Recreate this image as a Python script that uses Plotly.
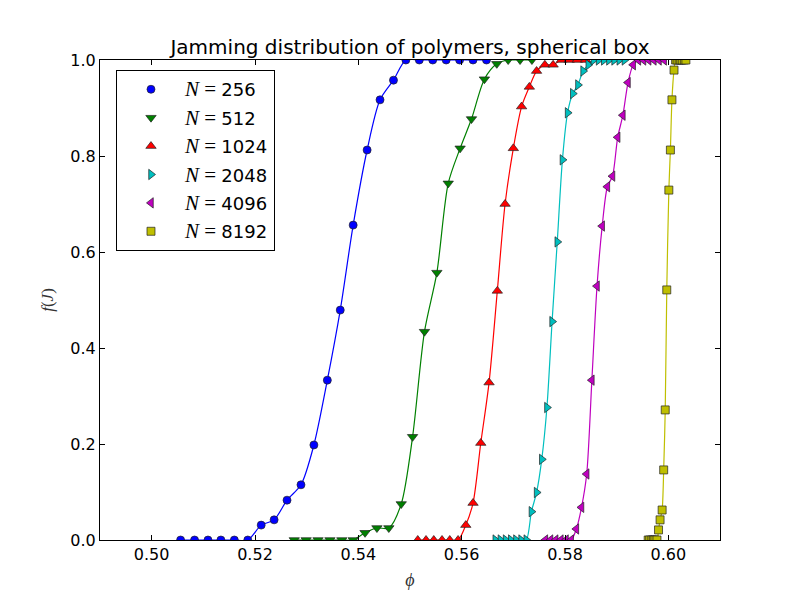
import plotly.graph_objects as go

# ---- data ----
labels = ["256", "512", "1024", "2048", "4096", "8192"]

phi_256 = [0.5056, 0.5083, 0.5109, 0.5134, 0.5160, 0.5186, 0.5212, 0.5237, 0.5262, 0.5289,
           0.5314, 0.5340, 0.5365, 0.5390, 0.5417, 0.5442, 0.5468, 0.5492, 0.5518, 0.5544,
           0.5570, 0.5596, 0.5622, 0.5648]
f_256 = [0, 0, 0, 0, 0, 0, 0.031, 0.042, 0.083, 0.115, 0.198, 0.333, 0.479, 0.656, 0.8125,
         0.917, 0.958, 1, 1, 1, 1, 1, 1, 1]

phi_512 = [0.5276, 0.5299, 0.5322, 0.5345, 0.5368, 0.5390, 0.5413, 0.5436, 0.5459, 0.5483,
           0.5505, 0.5528, 0.5552, 0.5574, 0.5597, 0.5619, 0.5644, 0.5668, 0.5690, 0.5713,
           0.5736]
f_512 = [0, 0, 0, 0, 0, 0, 0.015, 0.025, 0.025, 0.075, 0.215, 0.434, 0.557, 0.743, 0.816,
         0.877, 0.960, 0.992, 1, 1, 1]

phi_1024 = [0.5515, 0.5531, 0.5546, 0.5562, 0.5577, 0.5593, 0.5608, 0.5622, 0.5637, 0.5653,
            0.5669, 0.5684, 0.5700, 0.5716, 0.5731, 0.5745, 0.5761, 0.5777, 0.5793, 0.5808,
            0.5824, 0.5840]
f_1024 = [0, 0, 0, 0, 0, 0, 0.031, 0.077, 0.202, 0.328, 0.519, 0.700, 0.816, 0.903, 0.944,
          0.977, 0.99, 0.99, 1, 1, 1, 1]

phi_2048 = [0.5665, 0.5675, 0.5685, 0.5695, 0.5705, 0.5715, 0.5725, 0.5735, 0.5745, 0.5755,
            0.5765, 0.5775, 0.5785, 0.5795, 0.5805, 0.5815, 0.5825, 0.5835, 0.5845, 0.5855,
            0.5865, 0.5875, 0.5885, 0.5895, 0.5905, 0.5915]
f_2048 = [0, 0, 0, 0, 0, 0, 0, 0.059, 0.099, 0.168, 0.276, 0.455, 0.621, 0.792, 0.890,
          0.930, 0.948, 0.977, 0.990, 1, 1, 1, 1, 1, 1, 1]

phi_4096 = [0.5762, 0.5772, 0.5782, 0.5792, 0.5802, 0.5812, 0.5822, 0.5832, 0.5842, 0.5852,
            0.5862, 0.5872, 0.5882, 0.5892, 0.5902, 0.5912, 0.5922, 0.5932, 0.5942, 0.5952,
            0.5962, 0.5972, 0.5982, 0.5992]
f_4096 = [0, 0, 0, 0, 0, 0, 0.023, 0.068, 0.1375, 0.333, 0.529, 0.654, 0.736, 0.758, 0.839,
          0.885, 0.953, 0.990, 1, 1, 1, 1, 1, 1]

phi_8192 = [0.5961, 0.5964, 0.5968, 0.5971, 0.5974, 0.5978, 0.5981, 0.5984, 0.5988, 0.5991,
            0.5994, 0.5997, 0.6001, 0.6004, 0.6007, 0.6011, 0.6014, 0.6017, 0.6021, 0.6024,
            0.6027, 0.6031, 0.6034]
f_8192 = [0, 0, 0, 0, 0, 0, 0.021, 0.042, 0.0625, 0.146, 0.271, 0.521, 0.729, 0.8125, 0.917,
          0.979, 1, 1, 1, 1, 1, 1, 1]

x_ticks = [0.50, 0.52, 0.54, 0.56, 0.58, 0.60]
y_ticks = [0.0, 0.2, 0.4, 0.6, 0.8, 1.0]

series = [
    (phi_256, f_256, "#0000ff", "circle", 8),
    (phi_512, f_512, "#008000", "triangle-down", 9),
    (phi_1024, f_1024, "#ff0000", "triangle-up", 9),
    (phi_2048, f_2048, "#00bfbf", "triangle-right", 9),
    (phi_4096, f_4096, "#bf00bf", "triangle-left", 9),
    (phi_8192, f_8192, "#bfbf00", "square", 8),
]

SERIF = "Liberation Serif"
fig = go.Figure()
for (xs, ys, col, sym, sz), lab in zip(series, labels):
    fig.add_trace(go.Scatter(
        x=xs, y=ys, mode="lines", line=dict(color=col, width=1.2, shape="spline", smoothing=0.8),
        showlegend=False, legendgroup=lab, hoverinfo="skip"))
for (xs, ys, col, sym, sz), lab in zip(series, labels):
    fig.add_trace(go.Scatter(
        x=xs, y=ys, mode="markers", cliponaxis=True,
        marker=dict(symbol=sym, size=sz, color=col, line=dict(color="#222222", width=0.7)),
        name=f"<span style='font-family:{SERIF};font-size:21px'><i>N</i> = </span>{lab}",
        legendgroup=lab))

axis_common = dict(
    showline=True, linecolor="black", linewidth=1.2, mirror="allticks",
    ticks="inside", ticklen=5, tickcolor="black", tickwidth=1,
    showgrid=False, zeroline=False,
    tickfont=dict(family="DejaVu Sans", size=16, color="black"),
)

fig.update_layout(
    width=800, height=600,
    margin=dict(l=100, r=80, t=60, b=60),
    paper_bgcolor="white", plot_bgcolor="white",
    title=dict(text="Jamming distribution of polymers, spherical box",
               font=dict(family="DejaVu Sans", size=20, color="black"),
               x=0.5125, xanchor="center", y=1 - 47 / 600, yanchor="middle"),
    xaxis=dict(range=[0.49, 0.61], tickvals=x_ticks, ticktext=[f"{v:.2f}" for v in x_ticks],
               title=dict(text="<i>\u03d5</i>", font=dict(family=SERIF, size=18, color="#333"), standoff=10),
               **axis_common),
    yaxis=dict(range=[0, 1], tickvals=y_ticks, ticktext=[f"{v:.1f}" for v in y_ticks],
               title=dict(text="<i>f</i>(<i>J</i>)", font=dict(family=SERIF, size=17, color="#333"), standoff=12),
               **axis_common),
    legend=dict(x=0.0258, y=0.979, xanchor="left", yanchor="top",
                bordercolor="black", borderwidth=1, bgcolor="white",
                font=dict(family="DejaVu Sans", size=18, color="black"),
                tracegroupgap=2, itemwidth=58, traceorder="grouped"),
)

fig.write_html("out.html")
